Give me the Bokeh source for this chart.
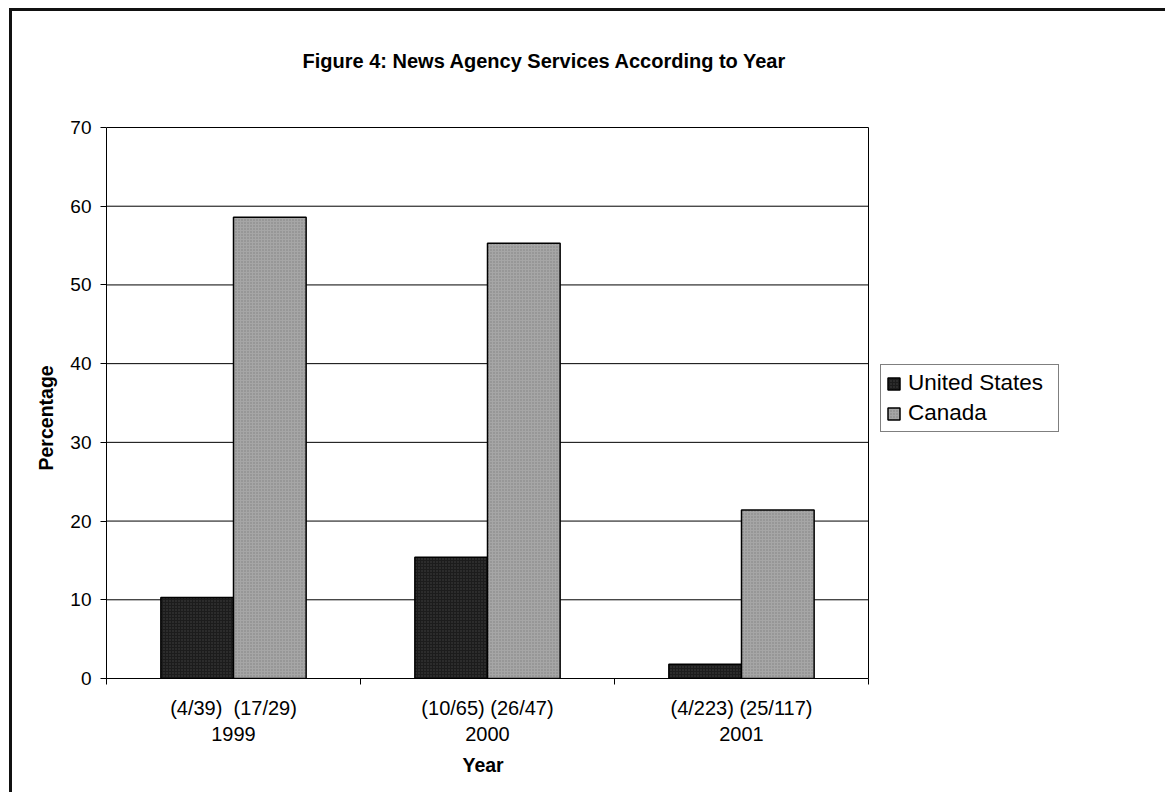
from bokeh.plotting import figure
from bokeh.models import (ColumnDataSource, FixedTicker, Legend, LegendItem,
                          Label, Title)
from bokeh.embed import file_html
from bokeh.resources import INLINE

# Survey years with the raw counts behind each percentage
years = ["1999", "2000", "2001"]
count_labels = ["(4/39)\u00a0 (17/29)", "(10/65) (26/47)", "(4/223) (25/117)"]
us_pct = [10.3, 15.4, 1.8]
ca_pct = [58.6, 55.3, 21.4]
y_ticks = [0, 10, 20, 30, 40, 50, 60, 70]

FONT = "Liberation Sans"
BAR_W = 0.286
N = len(years)
Y_MAX = y_ticks[-1]

# Page geometry (pixels). The frame reaches past the plotted area so the
# title and legend can sit inside it; the boxed area spans PLOT_L..PLOT_R
# and PLOT_T..PLOT_B.
W, H = 1156, 784
ORIGIN_X, ORIGIN_Y = 12, 11
PLOT_L, PLOT_R, PLOT_T, PLOT_B = 106, 868, 127, 678
FRAME_R = 1160
px_x = (PLOT_R - PLOT_L) / N
px_y = (PLOT_B - PLOT_T) / Y_MAX
x_end = (FRAME_R - PLOT_L) / px_x
y_end = (PLOT_B - ORIGIN_Y) / px_y


def data_x(px):
    return (px - PLOT_L) / px_x


def data_y(py):
    return (PLOT_B - py) / px_y


centers = [i + 0.5 for i in range(N)]
us_src = ColumnDataSource(dict(x=[c - BAR_W / 2 for c in centers], top=us_pct))
ca_src = ColumnDataSource(dict(x=[c + BAR_W / 2 for c in centers], top=ca_pct))

p = figure(
    width=W, height=H, title=None,
    x_range=(0, x_end), y_range=(0, y_end),
    output_backend="svg", toolbar_location=None,
    min_border_left=PLOT_L - ORIGIN_X,
    min_border_right=ORIGIN_X + W - FRAME_R,
    min_border_top=0,
    min_border_bottom=ORIGIN_Y + H - PLOT_B,
)
p.styles = {"margin-left": "9px", "margin-top": "8px",
            "border-left": "3px solid #111", "border-top": "3px solid #111"}
p.outline_line_color = None
p.xgrid.grid_line_color = None
p.ygrid.grid_line_color = None
p.background_fill_color = "#ffffff"
p.border_fill_color = "#ffffff"

# Horizontal grid lines and the right edge of the plot box
p.segment(x0=0, x1=N, y0=y_ticks, y1=y_ticks, line_color="#000000", line_width=1)
p.segment(x0=N, x1=N, y0=0, y1=Y_MAX, line_color="#000000", line_width=1)

us = p.vbar(x="x", top="top", width=BAR_W, source=us_src,
            fill_color="#1c1c1c", line_color="#000000", line_width=1.5,
            hatch_pattern="dot", hatch_color="#8a8a8a", hatch_scale=3,
            hatch_alpha=0.35)
ca = p.vbar(x="x", top="top", width=BAR_W, source=ca_src,
            fill_color="#a6a6a6", line_color="#000000", line_width=1.5,
            hatch_pattern="dot", hatch_color="#3a3a3a", hatch_scale=3,
            hatch_alpha=0.35)

# Title
p.add_layout(Label(
    x=data_x(302), y=data_y(60),
    text="Figure 4: News Agency Services According to Year",
    text_font=FONT, text_font_size="20px", text_font_style="bold",
    text_color="#000000", text_align="left", text_baseline="alphabetic",
))

# Y axis
p.yaxis.bounds = (0, Y_MAX)
p.yaxis.ticker = FixedTicker(ticks=y_ticks)
p.yaxis.major_label_text_font = FONT
p.yaxis.major_label_text_font_size = "19px"
p.yaxis.major_label_text_color = "#000000"
p.yaxis.major_label_standoff = 9
p.yaxis.major_tick_out = 6
p.yaxis.major_tick_in = 0
p.yaxis.minor_tick_line_color = None
p.yaxis.axis_line_color = "#000000"
p.yaxis.major_tick_line_color = "#000000"

# "Percentage" set beside the boxed area rather than the whole frame
p.add_layout(Title(
    text="Percentage", align="left", offset=208, standoff=22,
    text_font=FONT, text_font_size="19.5px", text_font_style="bold",
    text_color="#000000",
), "left")

# X axis: labels centred on each year, tick marks on the boundaries
p.xaxis.bounds = (0, N)
p.xaxis.ticker = FixedTicker(ticks=centers, minor_ticks=list(range(N + 1)))
p.xaxis.major_label_overrides = {
    c: f"{lab}\n{y}" for c, lab, y in zip(centers, count_labels, years)
}
p.xaxis.major_tick_out = 0
p.xaxis.major_tick_in = 0
p.xaxis.minor_tick_out = 6
p.xaxis.minor_tick_in = 0
p.xaxis.minor_tick_line_color = "#000000"
p.xaxis.axis_line_color = "#000000"
p.xaxis.major_label_text_font = FONT
p.xaxis.major_label_text_font_size = "20px"
p.xaxis.major_label_text_color = "#000000"
p.xaxis.major_label_standoff = 12

# "Year" centred under the boxed area
p.add_layout(Title(
    text="Year", align="left", offset=356, standoff=9,
    text_font=FONT, text_font_size="19.5px", text_font_style="bold",
    text_color="#000000",
), "below")

legend = Legend(
    items=[LegendItem(label="United States", renderers=[us]),
           LegendItem(label="Canada", renderers=[ca])],
    location=(880 - PLOT_L, PLOT_B - 432),
    label_text_font=FONT, label_text_font_size="22.5px",
    label_text_color="#000000", label_height=22, label_width=145,
    glyph_width=15, glyph_height=15, label_standoff=7,
    padding=5, spacing=4, margin=0,
    border_line_color="#000000", border_line_width=1,
    background_fill_color="#ffffff", background_fill_alpha=1,
)
p.add_layout(legend, "center")

open("out.html", "w").write(file_html(p, INLINE))
